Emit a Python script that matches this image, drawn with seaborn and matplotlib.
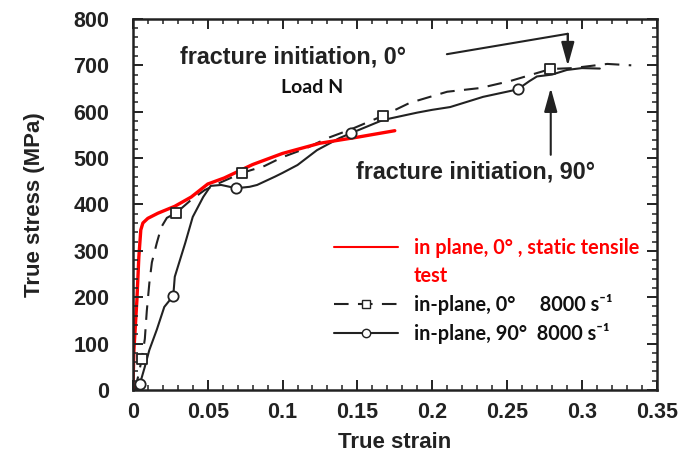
import matplotlib
matplotlib.use("Agg")
import matplotlib.pyplot as plt
from matplotlib.lines import Line2D
from matplotlib.ticker import MultipleLocator
import seaborn as sns
import pandas as pd

# ---------------- data ----------------
static_strain = [0, 0.0007, 0.0027, 0.004, 0.0053, 0.0067, 0.01, 0.0167, 0.028, 0.039,
                 0.05, 0.061, 0.08, 0.1, 0.125, 0.15, 0.175]
static_stress = [0, 86, 194, 287, 345, 360, 370, 381, 396, 416,
                 444, 457, 486, 510, 532, 545, 559]

dyn0_strain = [0, 0.002, 0.0033, 0.006, 0.008, 0.0093, 0.011, 0.0127, 0.016, 0.019, 0.0227,
               0.029, 0.039, 0.048, 0.059, 0.073, 0.088, 0.1, 0.115, 0.13, 0.145, 0.167,
               0.185, 0.21, 0.232, 0.252, 0.279, 0.294, 0.317, 0.333]
dyn0_stress = [0, 10, 26, 67, 110, 170, 230, 275, 317, 351, 371,
               382, 410, 431, 448, 468, 483, 502, 520, 543, 561, 591,
               619, 643, 651, 666, 692, 694, 703, 700]
dyn0_mark_strain = [0.006, 0.029, 0.073, 0.167, 0.279]
dyn0_mark_stress = [67, 382, 468, 591, 692]

dyn90_strain = [0, 0.002, 0.0047, 0.008, 0.011, 0.016, 0.021, 0.027, 0.028, 0.035, 0.040,
                0.047, 0.052, 0.059, 0.069, 0.078, 0.083, 0.095, 0.1, 0.11, 0.123, 0.138,
                0.146, 0.167, 0.19, 0.2, 0.212, 0.234, 0.257, 0.265, 0.27, 0.28, 0.29,
                0.3, 0.312]
dyn90_stress = [0, 3, 13, 50, 86, 130, 179, 203, 244, 317, 373,
                416, 440, 442, 435, 438, 442, 460, 468, 485, 517, 543,
                554, 582, 598, 604, 610, 632, 648, 666, 676, 680, 690,
                694, 693]
dyn90_mark_strain = [0.0047, 0.027, 0.069, 0.146, 0.257]
dyn90_mark_stress = [13, 203, 435, 554, 648]

x_ticks = [0, 0.05, 0.1, 0.15, 0.2, 0.25, 0.3, 0.35]
x_tick_labels = ["0", "0.05", "0.1", "0.15", "0.2", "0.25", "0.3", "0.35"]
y_ticks = [0, 100, 200, 300, 400, 500, 600, 700, 800]

label_static = "in plane, 0° , static tensile"
label_static2 = "test"
label_dyn0 = "in-plane, 0°     8000 s⁻¹"
label_dyn90 = "in-plane, 90°  8000 s⁻¹"

# annotation geometry (data coords)
frac0_text_xy = (0.1069, 718)
frac90_text_xy = (0.229, 470)
load_text_xy = (0.1196, 653)
frac0_path_x = [0.2098, 0.2906, 0.2906]
frac0_path_y = [724, 768, 740]
frac0_tip = (0.2906, 699)
frac0_tail = (0.2906, 768)
frac90_tip = (0.2792, 651)
frac90_tail = (0.2792, 507)

# ---------------- style ----------------
sns.set_theme(style="ticks")
plt.rcParams["font.family"] = ["Liberation Sans", "DejaVu Sans"]
plt.rcParams["font.weight"] = "bold"
plt.rcParams.update({
    "axes.axisbelow": False,
    "xtick.direction": "in", "ytick.direction": "in",
    "xtick.top": True, "ytick.right": True,
    "xtick.bottom": True, "ytick.left": True,
    "xtick.minor.visible": True, "ytick.minor.visible": True,
    "xtick.major.size": 7, "ytick.major.size": 7,
    "xtick.minor.size": 3.5, "ytick.minor.size": 3.5,
    "xtick.major.width": 1.4, "ytick.major.width": 1.4,
    "xtick.minor.width": 1.1, "ytick.minor.width": 1.1,
    "xtick.color": "#222222", "ytick.color": "#222222",
})

fig = plt.figure(figsize=(6.92, 4.62), dpi=100)
ax = fig.add_axes([0.192, 0.156, 0.757, 0.803])

df_s = pd.DataFrame({"strain": static_strain, "stress": static_stress})
df_0 = pd.DataFrame({"strain": dyn0_strain, "stress": dyn0_stress})
df_90 = pd.DataFrame({"strain": dyn90_strain, "stress": dyn90_stress})

sns.lineplot(data=df_90, x="strain", y="stress", ax=ax, color="#222222", lw=1.5,
             estimator=None, sort=False)
sns.lineplot(data=df_0, x="strain", y="stress", ax=ax, color="#222222", lw=1.5,
             estimator=None, sort=False, linestyle=(0, (7, 4.5)))
sns.lineplot(data=df_s, x="strain", y="stress", ax=ax, color="#ff0000", lw=2.4,
             estimator=None, sort=False)
sns.scatterplot(x=dyn0_mark_strain, y=dyn0_mark_stress, ax=ax, marker="s", s=55,
                facecolor="white", edgecolor="#222222", linewidth=1.3, zorder=5)
sns.scatterplot(x=dyn90_mark_strain, y=dyn90_mark_stress, ax=ax, marker="o", s=55,
                facecolor="white", edgecolor="#222222", linewidth=1.3, zorder=5)

ax.set_xlim(0, 0.35)
ax.set_ylim(0, 800)
ax.set_xticks(x_ticks)
ax.set_xticklabels(x_tick_labels)
ax.set_yticks(y_ticks)
ax.xaxis.set_minor_locator(MultipleLocator(0.01))
ax.yaxis.set_minor_locator(MultipleLocator(20))
ax.tick_params(which="both", direction="in", top=True, right=True, bottom=True, left=True)
ax.tick_params(which="major", length=7, width=1.4, labelsize=15.5)
ax.tick_params(which="minor", length=3.5, width=1.1)
ax.tick_params(axis="y", which="major", pad=17)
ax.tick_params(axis="x", which="major", pad=9)
for lab in ax.get_xticklabels() + ax.get_yticklabels():
    lab.set_fontweight("bold")
for sp in ax.spines.values():
    sp.set_linewidth(1.8)
    sp.set_color("#222222")
    sp.set_visible(True)
ax.set_xlabel("True strain", fontsize=16, fontweight="bold", labelpad=6, color="#222222")
ax.set_ylabel("True stress (MPa)", fontsize=16, fontweight="bold", labelpad=20, color="#222222")

# annotations
ax.text(*frac0_text_xy, "fracture initiation, 0°", fontsize=16.8, fontweight="bold",
        ha="center", va="center", color="#222222")
ax.text(*frac90_text_xy, "fracture initiation, 90°", fontsize=16.8, fontweight="bold",
        ha="center", va="center", color="#222222")
ax.text(*load_text_xy, "Load N", fontsize=14, fontweight="bold", ha="center", va="center",
        family=["Lato", "DejaVu Sans"], color="#111111")
ax.plot(frac0_path_x, frac0_path_y, color="#222222", lw=1.5)
arrow_style = dict(arrowstyle="-|>,head_length=0.9,head_width=0.25",
                   color="#222222", lw=1.5, mutation_scale=16, shrinkA=0, shrinkB=0)
ax.annotate("", xy=frac0_tip, xytext=frac0_tail, arrowprops=arrow_style)
ax.annotate("", xy=frac90_tip, xytext=frac90_tail, arrowprops=arrow_style)

# legend
handles = [
    Line2D([], [], color="#ff0000", lw=1.5),
    Line2D([], [], color="none", lw=0),
    Line2D([], [], color="#222222", lw=1.5, linestyle=(0, (7, 4.5)), marker="s",
           markersize=6, markerfacecolor="white", markeredgecolor="#222222"),
    Line2D([], [], color="#222222", lw=1.5, marker="o",
           markersize=6, markerfacecolor="white", markeredgecolor="#222222"),
]
leg = ax.legend(handles, [label_static, label_static2, label_dyn0, label_dyn90],
                loc="upper left", bbox_to_anchor=(0.35, 0.458), frameon=False,
                handlelength=3.2, handletextpad=0.8, labelspacing=0.4, numpoints=1,
                prop={"family": ["Lato", "DejaVu Sans"], "weight": "bold", "size": 14.3},
                labelcolor=["#ff0000", "#ff0000", "#111111", "#111111"])

fig.savefig("out.png", dpi=100)
